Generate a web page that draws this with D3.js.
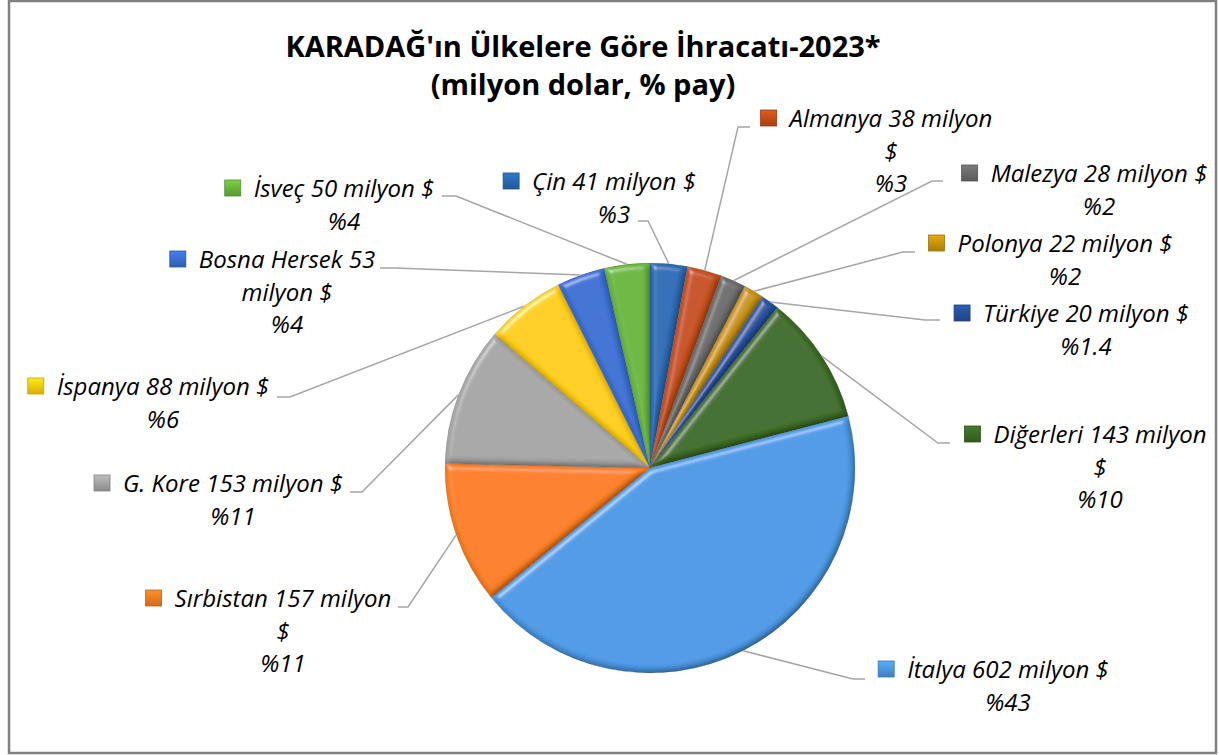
<!DOCTYPE html>
<html>
<head>
<meta charset="utf-8">
<script src="https://cdn.jsdelivr.net/npm/d3@7"></script>
<style>
  body { margin: 0; background: #fff; }
  text { font-family: "Open Sans", "Noto Sans", sans-serif; }
</style>
</head>
<body>
<div id="chart"></div>
<script>
// Data
var countries = ["Çin", "Almanya", "Malezya", "Polonya", "Türkiye", "Diğerleri",
                 "İtalya", "Sırbistan", "G. Kore", "İspanya", "Bosna Hersek", "İsveç"];
var values = [41, 38, 28, 22, 20, 143, 602, 157, 153, 88, 53, 50];
var shares = ["%3", "%3", "%2", "%2", "%1.4", "%10", "%43", "%11", "%11", "%6", "%4", "%4"];
var colors = ["#2766ae", "#be4c16", "#686868", "#c28f0c", "#264f98", "#3a6822",
              "#4893dc", "#f27a1e", "#9f9f9f", "#fbc60a", "#376bcc", "#66b03a"];
var titleLines = ["KARADAĞ'ın Ülkelere Göre İhracatı-2023*", "(milyon dolar, % pay)"];

// label layout: text centre, first baseline, wrap style, leader elbow and end
// wrap 0: "name v milyon $" / pct, 1: "name v milyon" / "$" / pct, 2: "name v" / "milyon $" / pct
var labelLayout = [
  {tx: 614,  ty: 190, wrap: 0, elbow: [648, 221], endX: 638},
  {tx: 891,  ty: 127, wrap: 1, elbow: [738, 127], endX: 750},
  {tx: 1099, ty: 182, wrap: 0, elbow: [932, 181], endX: 943},
  {tx: 1065, ty: 252, wrap: 0, elbow: [903, 252], endX: 915},
  {tx: 1086, ty: 322, wrap: 0, elbow: [925, 320], endX: 940},
  {tx: 1100, ty: 443, wrap: 1, elbow: [938, 443], endX: 950},
  {tx: 1008, ty: 678, wrap: 0, elbow: [853, 679], endX: 865},
  {tx: 283,  ty: 607, wrap: 1, elbow: [408, 607], endX: 398},
  {tx: 233,  ty: 492, wrap: 0, elbow: [362, 492], endX: 350},
  {tx: 163,  ty: 395, wrap: 0, elbow: [290, 397], endX: 277},
  {tx: 287,  ty: 268, wrap: 2, elbow: [395, 268], endX: 380},
  {tx: 344,  ty: 197, wrap: 0, elbow: [456, 196], endX: 442}
];

var width = 1219, height = 755;
var cx = 650, cy = 468, radius = 205;
var lineH = 32.5;

var svg = d3.select("#chart").append("svg")
  .attr("width", width)
  .attr("height", height);

var defs = svg.append("defs");

// bevel filter for the slices: diffuse shading multiplied in, small specular rim added
var f = defs.append("filter").attr("id", "bevel")
  .attr("x", "-10%").attr("y", "-10%").attr("width", "120%").attr("height", "120%");
f.append("feGaussianBlur").attr("in", "SourceAlpha").attr("stdDeviation", 3).attr("result", "b");
f.append("feDiffuseLighting").attr("in", "b").attr("surfaceScale", 3.5)
  .attr("diffuseConstant", 1.13).attr("lighting-color", "#ffffff").attr("result", "d")
  .append("feDistantLight").attr("azimuth", 235).attr("elevation", 62);
f.append("feComposite").attr("in", "SourceGraphic").attr("in2", "d")
  .attr("operator", "arithmetic").attr("k1", 1).attr("k2", 0).attr("k3", 0).attr("k4", 0).attr("result", "shaded");
f.append("feSpecularLighting").attr("in", "b").attr("surfaceScale", 3.5)
  .attr("specularConstant", 0.55).attr("specularExponent", 45)
  .attr("lighting-color", "#ffffff").attr("result", "s")
  .append("feDistantLight").attr("azimuth", 235).attr("elevation", 50);
f.append("feComposite").attr("in", "s").attr("in2", "SourceAlpha").attr("operator", "in").attr("result", "si");
f.append("feComposite").attr("in", "shaded").attr("in2", "si")
  .attr("operator", "arithmetic").attr("k1", 0).attr("k2", 1).attr("k3", 0.6).attr("k4", 0).attr("result", "lit");
f.append("feComposite").attr("in", "lit").attr("in2", "SourceAlpha").attr("operator", "in");

// vertical shading per colour
colors.forEach(function(c, i) {
  var g = defs.append("linearGradient").attr("id", "grad" + i)
    .attr("gradientUnits", "userSpaceOnUse")
    .attr("x1", 0).attr("y1", cy - radius).attr("x2", 0).attr("y2", cy + radius);
  g.append("stop").attr("offset", "0%").attr("stop-color", d3.color(c).brighter(0.1));
  g.append("stop").attr("offset", "100%").attr("stop-color", d3.color(c).darker(0.3));
  var m = defs.append("linearGradient").attr("id", "mk" + i)
    .attr("x1", 0).attr("y1", 0).attr("x2", 0).attr("y2", 1);
  m.append("stop").attr("offset", "0%").attr("stop-color", d3.color(c).brighter(0.5));
  m.append("stop").attr("offset", "100%").attr("stop-color", d3.color(c).darker(0.4));
});

// frame
svg.append("rect")
  .attr("x", 9).attr("y", 1)
  .attr("width", 1207).attr("height", 752)
  .attr("fill", "#fff")
  .attr("stroke", "#808080")
  .attr("stroke-width", 2.5);

// title
svg.selectAll(".title")
  .data(titleLines)
  .enter().append("text")
  .attr("class", "title")
  .attr("x", 583)
  .attr("y", function(d, i) { return 57 + i * 38; })
  .attr("text-anchor", "middle")
  .style("font-weight", "bold")
  .style("font-size", "29px")
  .attr("fill", "#000")
  .text(function(d) { return d; });

// pie
var pie = d3.pie().sort(null).value(function(d) { return d; });
var arcs = pie(values);
var arc = d3.arc().innerRadius(0).outerRadius(radius);

var pieG = svg.append("g").attr("transform", "translate(" + cx + "," + cy + ")");

// leader lines (under the slices)
var leaders = svg.append("g");
arcs.forEach(function(a, i) {
  var mid = (a.startAngle + a.endAngle) / 2;
  var px = cx + radius * Math.sin(mid);
  var py = cy - radius * Math.cos(mid);
  var L = labelLayout[i];
  leaders.append("polyline")
    .attr("points", [[px, py], L.elbow, [L.endX, L.elbow[1]]].map(function(p) { return p.join(","); }).join(" "))
    .attr("fill", "none")
    .attr("stroke", "#a6a6a6")
    .attr("stroke-width", 1.5);
});

pieG.selectAll("path")
  .data(arcs)
  .enter().append("path")
  .attr("d", arc)
  .attr("fill", function(d, i) { return "url(#grad" + i + ")"; })
  .attr("stroke", function(d, i) { return d3.color(colors[i]).darker(0.8); })
  .attr("stroke-width", 0.6)
  .attr("filter", "url(#bevel)");

// labels
var labels = svg.append("g").style("font-style", "italic").style("font-size", "24px");
countries.forEach(function(name, i) {
  var L = labelLayout[i];
  var lines;
  if (L.wrap === 0) lines = [name + " " + values[i] + " milyon $", shares[i]];
  else if (L.wrap === 1) lines = [name + " " + values[i] + " milyon", "$", shares[i]];
  else lines = [name + " " + values[i], "milyon $", shares[i]];

  var first = null;
  lines.forEach(function(t, j) {
    var el = labels.append("text")
      .attr("x", L.tx)
      .attr("y", L.ty + j * lineH)
      .attr("text-anchor", "middle")
      .attr("fill", "#000")
      .text(t);
    if (j === 0) first = el;
  });
  var w = first.node().getComputedTextLength();
  labels.append("rect")
    .attr("x", L.tx - w / 2 - 13 - 16)
    .attr("y", L.ty - 17)
    .attr("width", 16).attr("height", 16)
    .attr("fill", "url(#mk" + i + ")")
    .attr("stroke", d3.color(colors[i]).darker(0.6))
    .attr("stroke-width", 0.8);
});
</script>
</body>
</html>
